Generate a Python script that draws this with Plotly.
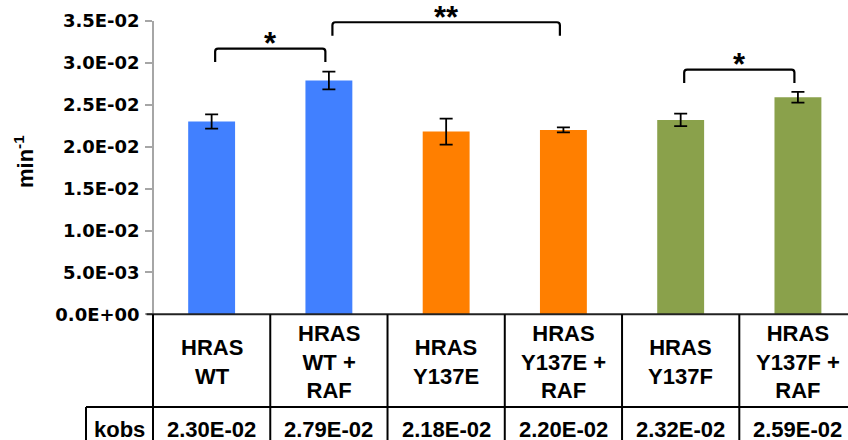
import plotly.graph_objects as go

# ---------------- data ----------------
categories = ["HRAS<br>WT", "HRAS<br>WT +<br>RAF", "HRAS<br>Y137E",
              "HRAS<br>Y137E +<br>RAF", "HRAS<br>Y137F", "HRAS<br>Y137F +<br>RAF"]
kobs_values = [0.0230, 0.0279, 0.0218, 0.0220, 0.0232, 0.0259]
kobs_errors = [0.00085, 0.00105, 0.00155, 0.00030, 0.00075, 0.00065]
kobs_labels = ["2.30E-02", "2.79E-02", "2.18E-02", "2.20E-02", "2.32E-02", "2.59E-02"]
ytick_values = [0.0, 0.005, 0.010, 0.015, 0.020, 0.025, 0.030, 0.035]
ytick_labels = ["0.0E+00", "5.0E-03", "1.0E-02", "1.5E-02", "2.0E-02",
                "2.5E-02", "3.0E-02", "3.5E-02"]
sig_left = [0, 1, 4]
sig_right = [1, 3, 5]
sig_top = [0.0317, 0.03485, 0.0292]
sig_text = ["*", "**", "*"]
row_label = "kobs"
y_title = "min<sup>-1</sup>"

# ---------------- style ----------------
W, H = 848, 440
bar_colors = ["#4180FF", "#4180FF", "#FF7F00", "#FF7F00", "#8AA14B", "#8AA14B"]
FONT = "Liberation Sans, Arial, sans-serif"
TICKFONT = "DejaVu Sans, sans-serif"

x_idx = list(range(len(categories)))
col_w = 117.26
axis_px = 153.0
x_min = -0.5 - axis_px / col_w
x_max = -0.5 + (W - axis_px) / col_w

y0_px, ytop_px = 314.3, 21.0
dom = [(H - y0_px) / H, (H - ytop_px) / H]

fig = go.Figure()
fig.add_trace(go.Bar(
    x=x_idx, y=kobs_values, width=0.4,
    marker=dict(color=bar_colors, line=dict(width=0)),
    error_y=dict(type="data", array=kobs_errors, color="black",
                 thickness=1.8, width=6.5),
    showlegend=False, hoverinfo="skip",
))

shapes = []
# significance brackets
leg = 0.0016
for l, r, t in zip(sig_left, sig_right, sig_top):
    xa, xb = l + 0.03, r - 0.03
    rx, ry = 0.025, 0.00035
    path = (f"M {xa},{t-leg} L {xa},{t-ry} Q {xa},{t} {xa+rx},{t} "
            f"L {xb-rx},{t} Q {xb},{t} {xb},{t-ry} L {xb},{t-leg}")
    shapes.append(dict(type="path", path=path, xref="x", yref="y",
                       line=dict(color="black", width=2.2)))

# table lines
tbl_top = (H - y0_px) / H
row2_top = (H - 407.0) / H
kobs_left = -0.5 - (axis_px - 86.0) / col_w
shapes.append(dict(type="line", xref="x", yref="paper",
                   x0=-0.5 - 6.5 / col_w, x1=len(categories) - 0.5,
                   y0=tbl_top, y1=tbl_top, line=dict(color="#222222", width=2)))
for k in range(len(categories) + 1):
    shapes.append(dict(type="line", xref="x", yref="paper",
                       x0=k - 0.5, x1=k - 0.5, y0=tbl_top, y1=-0.05,
                       line=dict(color="black", width=2)))
shapes.append(dict(type="line", xref="x", yref="paper",
                   x0=kobs_left, x1=len(categories) - 0.5,
                   y0=row2_top, y1=row2_top, line=dict(color="black", width=2)))
shapes.append(dict(type="line", xref="x", yref="paper",
                   x0=kobs_left, x1=kobs_left, y0=row2_top, y1=-0.05,
                   line=dict(color="black", width=2)))

annotations = []
for i, (c, v) in enumerate(zip(categories, kobs_labels)):
    annotations.append(dict(x=i, y=(H - 362.0) / H, xref="x", yref="paper",
                            text=c, showarrow=False, xanchor="center", yanchor="middle",
                            font=dict(family=FONT, size=22, color="black", weight="bold")))
    annotations.append(dict(x=i, y=(H - 429.5) / H, xref="x", yref="paper",
                            text=v, showarrow=False, xanchor="center", yanchor="middle",
                            font=dict(family=FONT, size=22, color="black", weight="bold")))
annotations.append(dict(x=(kobs_left - 0.5) / 2, y=(H - 429.5) / H, xref="x", yref="paper",
                        text=row_label, showarrow=False, xanchor="center", yanchor="middle",
                        font=dict(family=FONT, size=22, color="black", weight="bold")))
for l, r, t, s in zip(sig_left, sig_right, sig_top, sig_text):
    annotations.append(dict(x=(l + r) / 2, y=t, xref="x", yref="y", text=s,
                            showarrow=False, xanchor="center", yanchor="middle", yshift=5,
                            font=dict(family=FONT, size=31, color="black", weight="bold")))
annotations.append(dict(x=24 / W, y=(H - 162) / H, xref="paper", yref="paper",
                        text=y_title, textangle=-90, showarrow=False,
                        xanchor="center", yanchor="middle",
                        font=dict(family=FONT, size=22, color="black", weight="bold")))

fig.update_layout(
    width=W, height=H, margin=dict(l=0, r=0, t=0, b=0, pad=0),
    paper_bgcolor="white", plot_bgcolor="white",
    xaxis=dict(domain=[0, 1], range=[x_min, x_max], visible=False,
               fixedrange=True, automargin=False),
    yaxis=dict(domain=dom, range=[0, 0.035], anchor="free", position=axis_px / W,
               tickvals=ytick_values, ticktext=ytick_labels, automargin=False,
               ticks="outside", ticklen=7, tickwidth=1.5, tickcolor="#a6a6a6",
               showline=True, linecolor="#a6a6a6", linewidth=1.5,
               showgrid=False, zeroline=False, ticklabelstandoff=2,
               tickfont=dict(family=TICKFONT, size=18, color="black", weight="bold")),
    shapes=shapes, annotations=annotations, showlegend=False,
)

fig.write_html("out.html", config={"displayModeBar": False},
               post_script="document.body.style.margin='0';document.body.style.overflow='hidden';")
